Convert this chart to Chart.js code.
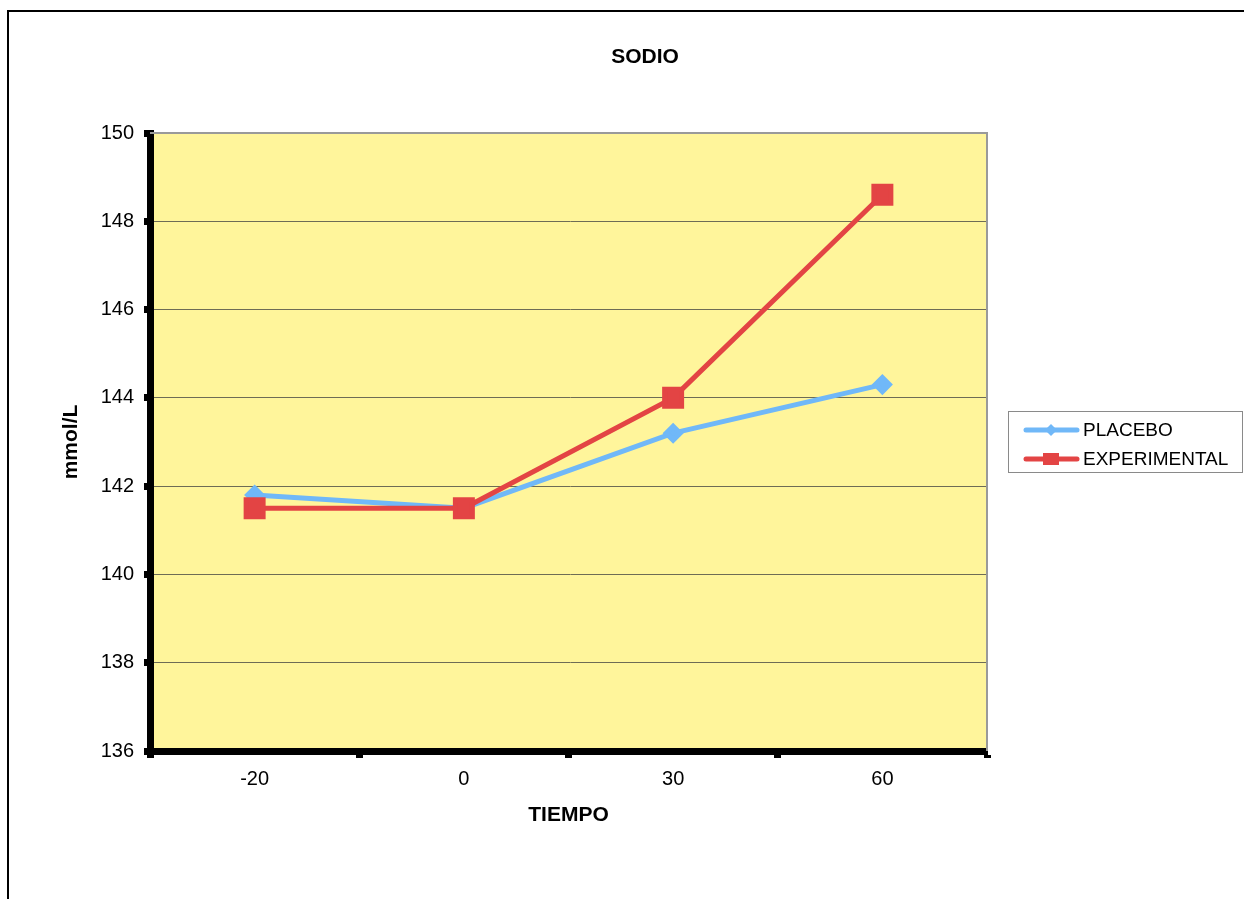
<!DOCTYPE html>
<html>
<head>
<meta charset="utf-8">
<script src="https://cdn.jsdelivr.net/npm/chart.js@4"></script>
<style>
  html, body { margin: 0; padding: 0; background: #fff; }
  #wrap { width: 1244px; height: 899px; }
</style>
</head>
<body>
<div id="wrap"><canvas id="myChart" width="1244" height="899"></canvas></div>
<script>
const chartTitle = "SODIO";
const xTitle = "TIEMPO";
const yTitle = "mmol/L";
const categories = ["-20", "0", "30", "60"];
const placebo = [141.8, 141.5, 143.2, 144.3];
const experimental = [141.5, 141.5, 144.0, 148.6];
const yMin = 136, yMax = 150, yStep = 2;

const FONT = "'Liberation Sans', Arial, sans-serif";

// fondo amarillo, marco, titulo y leyenda
const decor = {
    id: "decor",
    beforeDraw(chart) {
        const c = chart.ctx, a = chart.chartArea;
        c.save();
        c.fillStyle = "#ffffff";
        c.fillRect(0, 0, chart.width, chart.height);
        // marco exterior
        c.strokeStyle = "#000";
        c.lineWidth = 2;
        c.beginPath();
        c.moveTo(8, 899);
        c.lineTo(8, 11);
        c.lineTo(1244, 11);
        c.stroke();
        c.fillStyle = "#fff59b";
        c.fillRect(a.left, a.top, a.right - a.left, a.bottom - a.top);
        c.restore();
    },
    beforeDatasetsDraw(chart) {
        const c = chart.ctx, a = chart.chartArea;
        c.save();
        c.strokeStyle = "#9a9a9a";
        c.lineWidth = 2;
        c.beginPath();
        c.moveTo(a.left, a.top);
        c.lineTo(a.right, a.top);
        c.lineTo(a.right, a.bottom);
        c.stroke();
        c.restore();
    },
    afterDraw(chart) {
        const c = chart.ctx;
        c.save();
        c.fillStyle = "#000";
        c.font = "bold 21px " + FONT;
        c.textAlign = "center";
        c.textBaseline = "middle";
        c.fillText(chartTitle, 645, 57);

        // leyenda
        c.strokeStyle = "#8a8a8a";
        c.lineWidth = 1;
        c.strokeRect(1008.5, 411.5, 234, 61);
        const rows = [430, 459];
        chart.data.datasets.forEach((ds, i) => {
            const y = rows[i];
            c.strokeStyle = ds.borderColor;
            c.lineWidth = 5;
            c.lineCap = "round";
            c.beginPath();
            c.moveTo(1026, y);
            c.lineTo(1077, y);
            c.stroke();
            c.fillStyle = ds.borderColor;
            c.beginPath();
            if (ds.pointStyle === "rect") {
                c.rect(1051 - 8, y - 6, 16, 12);
            } else {
                c.moveTo(1051 - 6, y);
                c.lineTo(1051, y - 6);
                c.lineTo(1051 + 6, y);
                c.lineTo(1051, y + 6);
                c.closePath();
            }
            c.fill();
            c.fillStyle = "#000";
            c.font = "19px " + FONT;
            c.textAlign = "left";
            c.textBaseline = "middle";
            c.fillText(ds.label, 1083, y + 1);
        });
        c.restore();
    }
};

window.onload = function () {
    let ctx = document.getElementById("myChart");
    new Chart(ctx, {
        type: "line",
        data: {
            labels: categories,
            datasets: [
                {
                    label: "PLACEBO",
                    data: placebo,
                    order: 2,
                    borderColor: "#70b8f8",
                    backgroundColor: "#70b8f8",
                    borderWidth: 5,
                    pointStyle: "rectRot",
                    pointRadius: 7,
                    pointHoverRadius: 7,
                    tension: 0
                },
                {
                    label: "EXPERIMENTAL",
                    data: experimental,
                    order: 1,
                    borderColor: "#e34444",
                    backgroundColor: "#e34444",
                    borderWidth: 5,
                    pointStyle: "rect",
                    pointRadius: 12,
                    pointHoverRadius: 12,
                    tension: 0
                }
            ]
        },
        options: {
            responsive: false,
            animation: false,
            layout: { padding: { left: 0, top: 133, right: 257, bottom: 0 } },
            plugins: {
                legend: { display: false },
                title: { display: false },
                tooltip: { enabled: false }
            },
            scales: {
                x: {
                    type: "category",
                    offset: true,
                    afterFit: s => { s.height = 148; },
                    border: { color: "#000", width: 7 },
                    grid: {
                        offset: true,
                        drawOnChartArea: false,
                        tickLength: 7,
                        tickColor: "#000",
                        tickWidth: 7
                    },
                    ticks: {
                        color: "#000",
                        font: { family: FONT, size: 20 },
                        padding: 9
                    },
                    title: {
                        display: true,
                        text: xTitle,
                        color: "#000",
                        font: { family: FONT, size: 21, weight: "bold" },
                        padding: { top: 0, bottom: 71 }
                    }
                },
                y: {
                    min: yMin,
                    max: yMax,
                    afterFit: s => { s.width = 150; },
                    border: { color: "#000", width: 7 },
                    grid: {
                        color: c => (c.tick && c.tick.value === yMax) ? "rgba(0,0,0,0)" : "#6e6c55",
                        lineWidth: 1,
                        tickLength: 6,
                        tickColor: "#000",
                        tickWidth: 7
                    },
                    ticks: {
                        stepSize: yStep,
                        color: "#000",
                        font: { family: FONT, size: 20 },
                        padding: 10
                    },
                    title: {
                        display: true,
                        text: yTitle,
                        color: "#000",
                        font: { family: FONT, size: 21, weight: "bold" },
                        padding: { top: 59, bottom: 0 }
                    }
                }
            }
        },
        plugins: [decor]
    });
};
</script>
</body>
</html>
